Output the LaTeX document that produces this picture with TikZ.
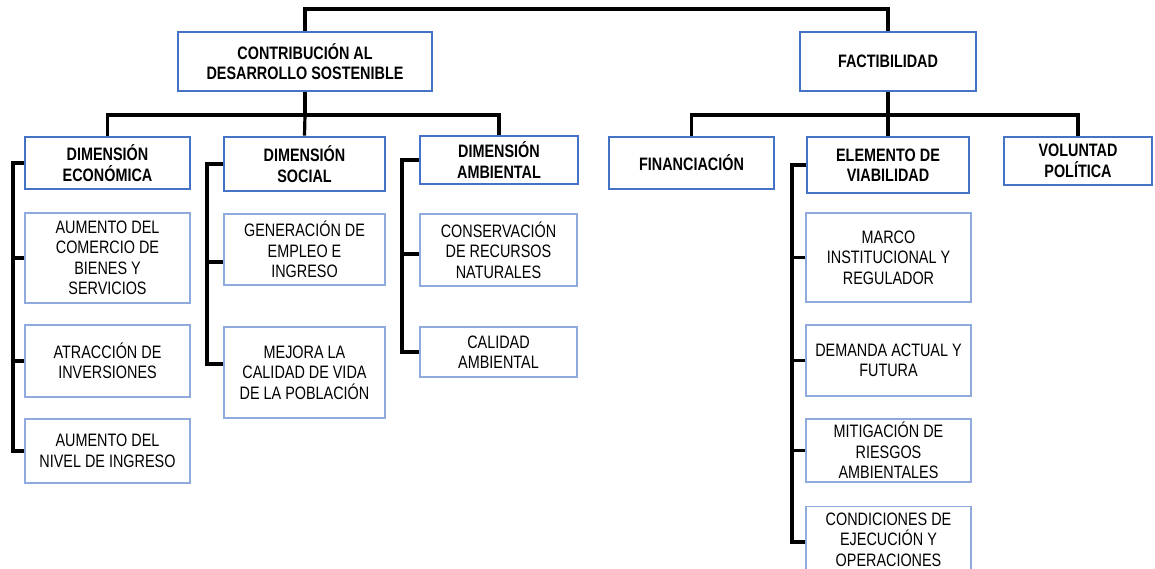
\documentclass[tikz,border=0pt]{standalone}
\usepackage{fontspec}
\setmainfont[FakeStretch=0.8]{Liberation Sans}
\definecolor{hdblue}{HTML}{4472C4}
\definecolor{leafblue}{HTML}{8FAADC}
\begin{document}
\begin{tikzpicture}[x=1pt,y=-1pt,
  box/.style={draw=hdblue, line width=2.8pt, align=center, inner sep=0pt, font=\fontsize{18}{20.5}\selectfont\bfseries},
  leaf/.style={draw=leafblue, line width=1.4pt, align=center, inner sep=0pt, font=\fontsize{18}{20.5}\selectfont},
  conn/.style={line width=3.2pt, black}]
\clip (0,0) rectangle (1155,568);
\fill[white] (0,0) rectangle (1155,568);
% top level
\node[box, minimum width=254, minimum height=59] (c) at (305,61.5) {CONTRIBUCIÓN AL\\DESARROLLO SOSTENIBLE};
\node[box, minimum width=176, minimum height=59] (f) at (888,61.5) {FACTIBILIDAD};
% second level
\node[box, minimum width=165, minimum height=52] (econ) at (107.5,163) {DIMENSIÓN\\ECONÓMICA};
\node[box, minimum width=161, minimum height=54] (soc) at (304.5,164) {DIMENSIÓN\\SOCIAL};
\node[box, minimum width=158, minimum height=48] (amb) at (499,160) {DIMENSIÓN\\AMBIENTAL};
\node[box, minimum width=165, minimum height=52] (fin) at (691.5,163) {FINANCIACIÓN};
\node[box, minimum width=162, minimum height=56] (elem) at (888,165) {ELEMENTO DE\\VIABILIDAD};
\node[box, minimum width=148, minimum height=48] (vol) at (1078,161) {VOLUNTAD\\POLÍTICA};
% leaves
\node[leaf, minimum width=165, minimum height=90] (e1) at (107.5,258) {AUMENTO DEL\\COMERCIO DE\\BIENES Y\\SERVICIOS};
\node[leaf, minimum width=165, minimum height=72] (e2) at (107.5,361) {ATRACCIÓN DE\\INVERSIONES};
\node[leaf, minimum width=165, minimum height=64] (e3) at (107.5,451) {AUMENTO DEL\\NIVEL DE INGRESO};
\node[leaf, minimum width=161, minimum height=71] (s1) at (304.5,249.5) {GENERACIÓN DE\\EMPLEO E\\INGRESO};
\node[leaf, minimum width=161, minimum height=91] (s2) at (304.5,372.5) {MEJORA LA\\CALIDAD DE VIDA\\DE LA POBLACIÓN};
\node[leaf, minimum width=157, minimum height=72] (a1) at (498.5,250) {CONSERVACIÓN\\DE RECURSOS\\NATURALES};
\node[leaf, minimum width=157, minimum height=50] (a2) at (498.5,352) {CALIDAD\\AMBIENTAL};
\node[leaf, minimum width=165, minimum height=89] (m1) at (888.5,257.5) {MARCO\\INSTITUCIONAL Y\\REGULADOR};
\node[leaf, minimum width=165, minimum height=71] (m2) at (888.5,360.5) {DEMANDA ACTUAL Y\\FUTURA};
\node[leaf, minimum width=165, minimum height=63] (m3) at (888.5,450.5) {MITIGACIÓN DE\\RIESGOS\\AMBIENTALES};
\node[leaf, minimum width=165, minimum height=66] (m4) at (888.5,539.5) {CONDICIONES DE\\EJECUCIÓN Y\\OPERACIONES};
% connectors top
\coordinate (top) at (595,9);
\draw[conn] (c.north) |- (top) -| (f.north);
\coordinate (cb) at (305,115);
\draw[conn] (c.south) -- (cb);
\draw[conn] (econ.north) |- (cb) -| (amb.north);
\draw[conn] (cb) -- (soc.north);
\coordinate (fb) at (888,115);
\draw[conn] (f.south) -- (fb);
\draw[conn] (fin.north) |- (fb) -| (vol.north);
\draw[conn] (fb) -- (elem.north);
% side connectors
\coordinate (ex) at (13,0);
\draw[conn] (econ.west) -| (ex |- e3.west) -- (e3.west);
\draw[conn] (ex |- e1.west) -- (e1.west);
\draw[conn] (ex |- e2.west) -- (e2.west);
\coordinate (sx) at (207,0);
\draw[conn] (soc.west) -| (sx |- 0,364) -- ([yshift=8.5pt]s2.west);
\draw[conn] (sx |- 0,262) -- ([yshift=-12.5pt]s1.west);
\coordinate (ax) at (402,0);
\draw[conn] (amb.west) -| (ax |- a2.west) -- (a2.west);
\draw[conn] (ax |- 0,254) -- ([yshift=-4pt]a1.west);
\coordinate (mx) at (792,0);
\draw[conn] (elem.west) -| (mx |- 0,542) -- ([yshift=-2.5pt]m4.west);
\draw[conn] (mx |- m1.west) -- (m1.west);
\draw[conn] (mx |- m2.west) -- (m2.west);
\draw[conn] (mx |- m3.west) -- (m3.west);
\end{tikzpicture}
\end{document}
